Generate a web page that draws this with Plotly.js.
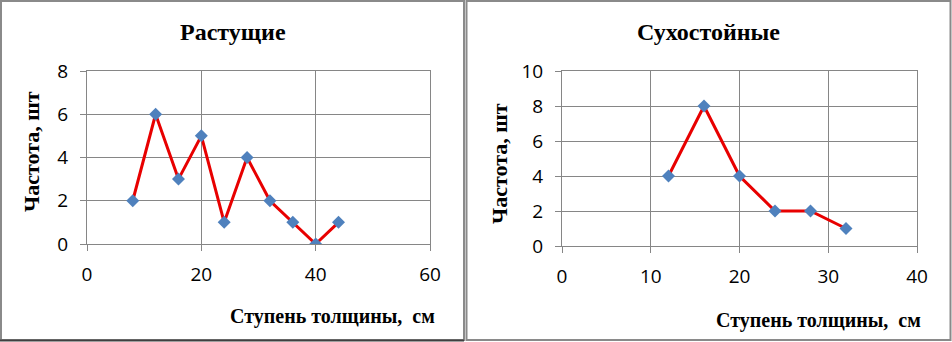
<!DOCTYPE html>
<html>
<head>
<meta charset="utf-8">
<script src="https://cdn.plot.ly/plotly-3.0.1.min.js"></script>
<style>html,body{margin:0;padding:0;background:#fff;}#chart{width:952px;height:342px;}</style>
</head>
<body>
<div id="chart"></div>
<script>
// Data
const growX = [8, 12, 16, 20, 24, 28, 32, 36, 40, 44];
const growY = [2, 6, 3, 5, 1, 4, 2, 1, 0, 1];
const deadX = [12, 16, 20, 24, 28, 32];
const deadY = [4, 8, 4, 2, 2, 1];
const titles = ["Растущие", "Сухостойные"];
const xTitle = "Ступень толщины,&nbsp; см";
const yTitle = "Частота, шт";

const W = 952, H = 342;
const px = v => v / W;
const py = v => 1 - v / H;

const lineStyle = {color: "#E80000", width: 3};
const markerStyle = {symbol: "diamond", size: 10, color: "#4F81BD", line: {width: 0}};

const traces = [
  {x: growX, y: growY, type: "scatter", mode: "lines+markers", line: lineStyle, marker: markerStyle, xaxis: "x", yaxis: "y", showlegend: false, hoverinfo: "x+y"},
  {x: deadX, y: deadY, type: "scatter", mode: "lines+markers", line: lineStyle, marker: markerStyle, xaxis: "x2", yaxis: "y2", showlegend: false, hoverinfo: "x+y"}
];

const gridC = "#868686";
const tickFont = {family: "Open Sans, Liberation Sans, sans-serif", size: 19, color: "#000"};
function ax(extra) {
  return Object.assign({
    showgrid: true, gridcolor: gridC, gridwidth: 1,
    showline: true, linecolor: gridC, linewidth: 1, mirror: true,
    ticks: "outside", ticklen: 6, tickcolor: gridC, tickwidth: 1,
    zeroline: false, tickfont: tickFont, fixedrange: true
  }, extra);
}

const titleFont = {family: "Liberation Serif, Times New Roman, serif", size: 24, color: "#000"};
const xTitleFont = {family: "Liberation Serif, Times New Roman, serif", size: 20, color: "#000"};
const yTitleFont = {family: "Liberation Serif, Times New Roman, serif", size: 22, color: "#000"};

const layout = {
  width: W, height: H, autosize: false,
  margin: {l: 0, r: 0, t: 0, b: 0},
  paper_bgcolor: "#fff", plot_bgcolor: "#fff",
  xaxis: ax({domain: [px(87), px(430)], range: [0, 60], dtick: 20, tick0: 0, anchor: "y", ticklabelstandoff: 7}),
  yaxis: ax({domain: [py(244), py(71)], range: [0, 8], dtick: 2, tick0: 0, anchor: "x", ticklabelstandoff: 8}),
  xaxis2: ax({domain: [px(562), px(917)], range: [0, 40], dtick: 10, tick0: 0, anchor: "y2", ticklabelstandoff: 7}),
  yaxis2: ax({domain: [py(246), py(71)], range: [0, 10], dtick: 2, tick0: 0, anchor: "x2", ticklabelstandoff: 8}),
  annotations: [
    {text: "<b>" + titles[0] + "</b>", xref: "paper", yref: "paper", x: px(233), y: py(32), xanchor: "center", yanchor: "middle", showarrow: false, font: titleFont},
    {text: "<b>" + titles[1] + "</b>", xref: "paper", yref: "paper", x: px(708), y: py(32), xanchor: "center", yanchor: "middle", showarrow: false, font: titleFont},
    {text: "<b>" + yTitle + "</b>", xref: "paper", yref: "paper", x: px(31), y: py(152), xanchor: "center", yanchor: "middle", textangle: -90, showarrow: false, font: yTitleFont},
    {text: "<b>" + yTitle + "</b>", xref: "paper", yref: "paper", x: px(499), y: py(164), xanchor: "center", yanchor: "middle", textangle: -90, showarrow: false, font: yTitleFont},
    {text: "<b>" + xTitle + "</b>", xref: "paper", yref: "paper", x: px(437), y: py(316), xanchor: "right", yanchor: "middle", showarrow: false, font: xTitleFont},
    {text: "<b>" + xTitle + "</b>", xref: "paper", yref: "paper", x: px(923), y: py(320), xanchor: "right", yanchor: "middle", showarrow: false, font: xTitleFont}
  ],
  shapes: [
    {type: "rect", xref: "paper", yref: "paper", x0: px(1), x1: px(464), y0: py(340), y1: py(1), line: {color: "#8a8a8a", width: 2}},
    {type: "rect", xref: "paper", yref: "paper", x0: px(466.5), x1: px(950.5), y0: py(340), y1: py(1), line: {color: "#8a8a8a", width: 2}},
    {type: "line", xref: "paper", yref: "paper", x0: px(0), x1: px(464), y0: py(340.5), y1: py(340.5), line: {color: "#404040", width: 2}}
  ]
};

Plotly.newPlot("chart", traces, layout, {displayModeBar: false, staticPlot: true});
</script>
</body>
</html>
